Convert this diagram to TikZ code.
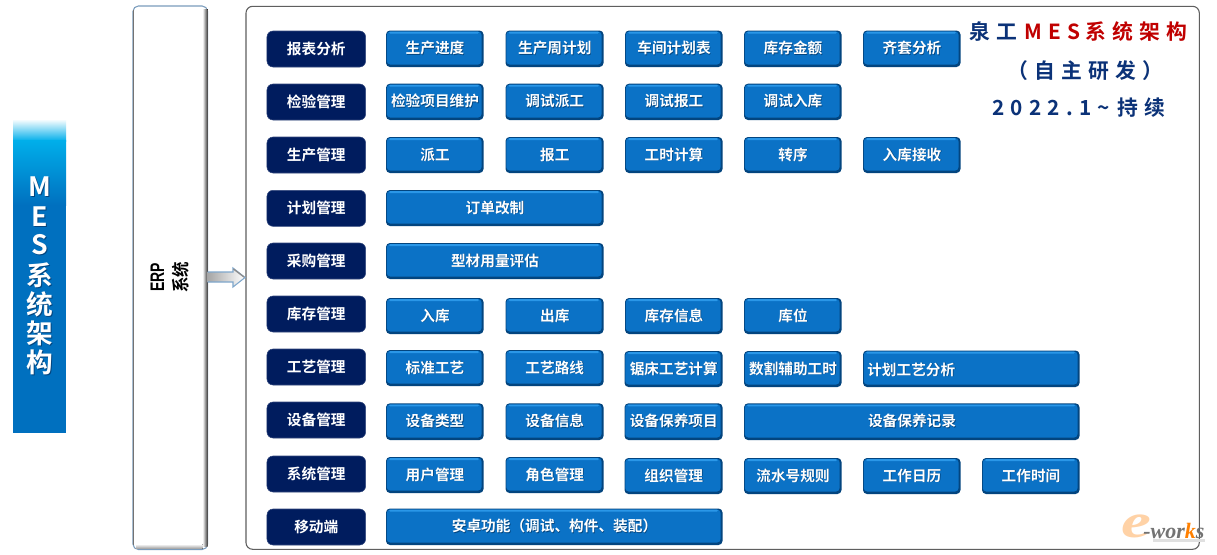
\documentclass[tikz,border=0pt]{standalone}
\usepackage{fontspec}
\setmainfont{Noto Sans CJK SC}[BoldFont={Noto Sans CJK SC Bold}]
\setsansfont{Liberation Sans}
\newfontfamily\logofont{Liberation Serif}
\usetikzlibrary{fadings}
\definecolor{navybox}{HTML}{001C5E}
\definecolor{btnblue}{HTML}{0B72C6}
\definecolor{btnlight}{HTML}{2A97E8}
\definecolor{btnedge}{HTML}{03457F}
\definecolor{bannerblue}{HTML}{0070BF}
\definecolor{bannercyan}{HTML}{00AEEA}
\definecolor{titleblue}{HTML}{0B3278}
\definecolor{titlered}{HTML}{C00000}
\definecolor{framegray}{HTML}{5F5F5F}
\definecolor{erpedge}{HTML}{7A9CBC}
\definecolor{arrowblue}{HTML}{7FA7CC}
\tikzset{
  x=0.75pt,y=-0.75pt,
  catbox/.style={fill=navybox,draw=navybox!80!white,line width=.4pt,rounded corners=4.5pt,text=white,font=\bfseries\fontsize{11}{13}\selectfont,inner sep=0pt,minimum width=74pt,minimum height=27pt},
  btnlabel/.style={text=white,font=\bfseries\fontsize{11}{13}\selectfont,inner sep=0pt},
  btnshadowlabel/.style={text=btnedge,font=\bfseries\fontsize{11}{13}\selectfont,inner sep=0pt},
  btnback/.style={fill=btnedge,rounded corners=3pt},
  btnface/.style={fill=btnblue,rounded corners=2.5pt},
  btnshine/.style={fill=btnlight,rounded corners=.8pt},
  titletext/.style={font=\bfseries\fontsize{15.6}{18}\selectfont\addfontfeatures{LetterSpace=30},text=titleblue,inner sep=0pt},
  bannertext/.style={text=white,font=\bfseries\fontsize{20}{24}\selectfont,inner sep=0pt},
  bannershadow/.style={text=btnedge,font=\bfseries\fontsize{20}{24}\selectfont,inner sep=0pt},
}
% \btnbase{x1}{x2}{y1}{y2}
\newcommand{\btnbase}[4]{%
  \fill[btnback] (#1,#3) rectangle (#2-.5,#4-1);
  \fill[btnface] (#1+.8,#3+1) rectangle (#2-2.5,#4-3.5);
  \fill[btnshine] (#1+3,#3+1.2) rectangle (#2-5,#3+3);
}
% \btn{name}{x1}{x2}{y1}{y2}{text}
\newcommand{\btn}[6]{%
  \btnbase{#2}{#3}{#4}{#5}
  \node[btnshadowlabel] (#1s) at ({(#2+#3)/2+.7},{(#4+#5)/2-.4}) {#6};
  \node[btnlabel] (#1) at ({(#2+#3)/2},{(#4+#5)/2-1}) {#6};
}
\newcommand{\cat}[3]{\node[catbox] (#1) at (316.3,#2) {#3};}
\begin{document}
\begin{tikzpicture}
\useasboundingbox (0,0) rectangle (1217,554);
\fill[white] (0,0) rectangle (1217,554);
% left banner
\fill[top color=white,bottom color=bannercyan] (13,119) rectangle (66,141);
\fill[top color=bannercyan,bottom color=bannerblue] (13,140.7) rectangle (66,205);
\fill[bannerblue] (13,204.7) rectangle (66,433);
\foreach \t/\yy in {M/187,E/217,S/245,系/275,统/304,架/333,构/362}{
  \node[bannershadow] at (40.5,\yy+1) {\t};
  \node[bannertext] at (39.5,\yy) {\t};
}
% ERP
\draw[erpedge,line width=.8pt,rounded corners=4pt,fill=white] (133,6) rectangle (207.5,549.5);
\fill[left color=white,right color=black!75] (202.5,9) rectangle (207.5,546);
\fill[top color=white,bottom color=black!40] (136,544) rectangle (202.5,548.8);
\draw[black!55,line width=.6pt] (133,10) -- (133,545);
\node[rotate=90,font=\sffamily\bfseries\fontsize{10.5}{12}\selectfont,inner sep=0pt] (erp) at (157.5,277.5) {\scalebox{1}[1.4]{ERP}};
\node[rotate=90,font=\bfseries\fontsize{11.6}{14}\selectfont,inner sep=0pt] (erp2) at (181,277.5) {\scalebox{1}[1.15]{系统}};
% main frame
\draw[framegray,line width=.8pt,rounded corners=5pt] (246,6.3) rectangle (1199.3,549.3);
% arrow
\path[left color=black!35,right color=white,draw=arrowblue,line width=.8pt]
  (207.5,272) -- (233,272) -- (233,268) -- (245,277.5) -- (233,287) -- (233,282) -- (207.5,282);
\draw[black!45,line width=1pt] (233.5,269) -- (244,277);
% categories
\cat{c1}{49}{报表分析}
\cat{c2}{102}{检验管理}
\cat{c3}{155}{生产管理}
\cat{c4}{208.3}{计划管理}
\cat{c5}{261}{采购管理}
\cat{c6}{314}{库存管理}
\cat{c7}{367}{工艺管理}
\cat{c8}{420}{设备管理}
\cat{c9}{474}{系统管理}
\cat{c10}{527}{移动端}
% row 1
\btn{a1}{386}{484}{30.5}{68}{生产进度}
\btn{a2}{505.5}{604}{30.5}{68}{生产周计划}
\btn{a3}{625}{723}{30.5}{68}{车间计划表}
\btn{a4}{744}{842}{30.5}{68}{库存金额}
\btn{a5}{863}{961}{30.5}{68}{齐套分析}
% row 2
\btn{b1}{386}{484}{83.7}{121}{检验项目维护}
\btn{b2}{505.5}{604}{83.7}{121}{调试派工}
\btn{b3}{625}{723}{83.7}{121}{调试报工}
\btn{b4}{744}{842}{83.7}{121}{调试入库}
% row 3
\btn{d1}{386}{484}{137}{174}{派工}
\btn{d2}{505.5}{604}{137}{174}{报工}
\btn{d3}{625}{723}{137}{174}{工时计算}
\btn{d4}{744}{842}{137}{174}{转序}
\btn{d5}{863}{961}{137}{174}{入库接收}
% row 4, 5
\btn{e1}{386}{604}{190}{227}{订单改制}
\btn{f1}{386}{604}{243}{280}{型材用量评估}
% row 6
\btn{g1}{386}{484}{298}{335}{入库}
\btn{g2}{505.5}{604}{298}{335}{出库}
\btn{g3}{625}{723}{298}{335}{库存信息}
\btn{g4}{744}{842}{298}{335}{库位}
% row 7
\btn{h1}{386}{484}{350}{387}{标准工艺}
\btn{h2}{505.5}{604}{350}{387}{工艺路线}
\btn{h3}{624.5}{723}{351}{388}{锯床工艺计算}
\btn{h4}{744}{842}{351}{388}{数割辅助工时}
\btnbase{863}{1080}{350.5}{388}
\node[btnshadowlabel,anchor=west] (h5s) at (867.7,370.2) {计划工艺分析};
\node[btnlabel,anchor=west] (h5) at (867,369.6) {计划工艺分析};
% row 8
\btn{i1}{386}{484}{403.3}{441}{设备类型}
\btn{i2}{505.5}{604}{403.3}{441}{设备信息}
\btn{i3}{624.5}{723}{403.3}{441}{设备保养项目}
\btn{i4}{744}{1080}{403.3}{441}{设备保养记录}
% row 9
\btn{j1}{386}{484}{457}{494}{用户管理}
\btn{j2}{505.5}{604}{457}{494}{角色管理}
\btn{j3}{624.5}{723}{458}{495}{组织管理}
\btn{j4}{744}{842}{458}{495}{流水号规则}
\btn{j5}{863}{961}{458}{495}{工作日历}
\btn{j6}{982}{1080}{458}{495}{工作时间}
% row 10
\btn{k1}{386}{723}{508.5}{546}{安卓功能（调试、构件、装配）}
% title
\node[titletext,anchor=west] (t1a) at (969.5,32) {泉工};
\node[titletext,anchor=west,text=titlered] (t1b) at (1024,32) {MES};
\node[titletext,anchor=west,text=titlered] (t1c) at (1085.5,32) {系统架构};
\node[titletext,anchor=west] (t2) at (1007,71) {（自主研发）};
\node[titletext,anchor=west] (t3a) at (992,107.5) {2022.1\textasciitilde};
\node[titletext,anchor=west] (t3b) at (1117,107.5) {持续};
% logo
\node[font=\logofont\bfseries\itshape\fontsize{36}{40}\selectfont,text=orange!35,inner sep=0pt,xscale=1.4] (logoe) at (1136,526) {e};
\fill[black!12] (1153,539) rectangle (1205,542);
\node[font=\logofont\bfseries\itshape\fontsize{16.5}{18}\selectfont,text=black!55,anchor=west,inner sep=0pt] (logo) at (1143,531) {-wor\textcolor{orange}{k}s};
\end{tikzpicture}
\end{document}
